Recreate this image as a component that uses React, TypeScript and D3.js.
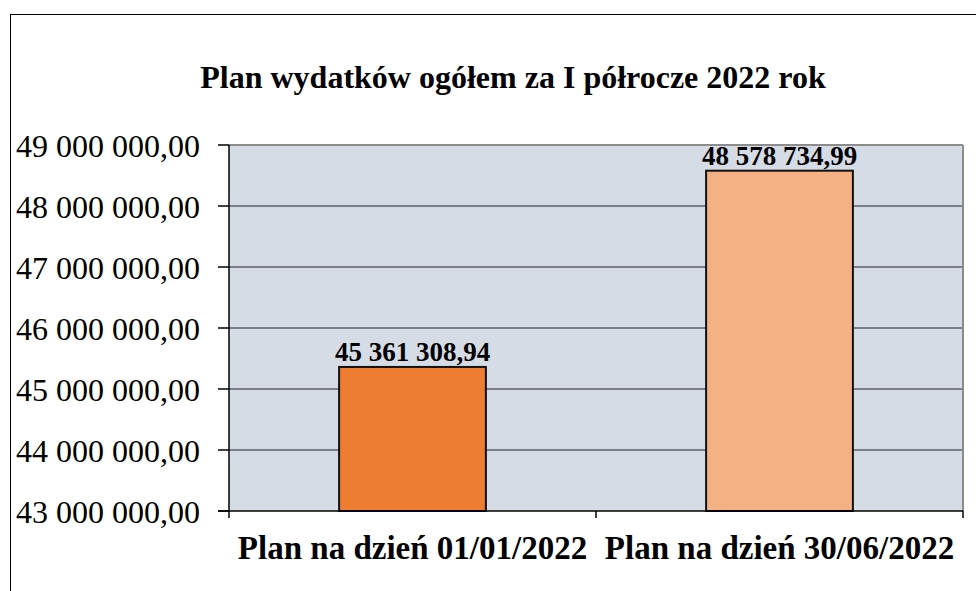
import React from "react";
import * as d3 from "d3";

const title = "Plan wydatków ogółem za I półrocze 2022 rok";
const categories = ["Plan na dzień 01/01/2022", "Plan na dzień 30/06/2022"];
const values = [45361308.94, 48578734.99];
const barColors = ["#ED7D31", "#F4B183"];
const yTicks = [43000000, 44000000, 45000000, 46000000, 47000000, 48000000, 49000000];

// 1 234 567,89 style
const fmt = (v: number) => {
  const [int, dec] = v.toFixed(2).split(".");
  return int.replace(/\B(?=(\d{3})+(?!\d))/g, " ") + "," + dec;
};

const W = 976;
const H = 591;
const plot = { left: 229, top: 145, right: 963, bottom: 511 };
const serif = "Liberation Serif, Times New Roman, DejaVu Serif, serif";

export default function App() {
  const x = d3
    .scaleBand<string>()
    .domain(categories)
    .range([plot.left, plot.right])
    .paddingInner(0.6)
    .paddingOuter(0.3);
  const y = d3.scaleLinear().domain([43000000, 49000000]).range([plot.bottom, plot.top]);
  const band = (plot.right - plot.left) / categories.length;

  return (
    <svg width={W} height={H} style={{ position: "absolute", left: 0, top: 0, background: "#fff" }}>
      <rect x={10.5} y={14.5} width={1000} height={700} fill="none" stroke="#000" strokeWidth={1} />

      <text x={513} y={88} textAnchor="middle" fontFamily={serif} fontSize={32} fontWeight="bold" fill="#000">
        {title}
      </text>

      <rect
        x={plot.left}
        y={plot.top}
        width={plot.right - plot.left}
        height={plot.bottom - plot.top}
        fill="#D6DCE5"
      />

      {yTicks.slice(1).map((t) => (
        <line key={t} x1={plot.left} x2={plot.right} y1={y(t)} y2={y(t)} stroke="#222" strokeWidth={1.2} />
      ))}

      {/* plot frame: grey top/right */}
      <line x1={plot.left} x2={plot.right} y1={plot.top} y2={plot.top} stroke="#8c8c8c" strokeWidth={2} />
      <line x1={plot.right} x2={plot.right} y1={plot.top} y2={plot.bottom} stroke="#8c8c8c" strokeWidth={2} />

      {categories.map((c, i) => (
        <g key={c}>
          <rect
            x={x(c)}
            y={y(values[i])}
            width={x.bandwidth()}
            height={plot.bottom - y(values[i])}
            fill={barColors[i]}
            stroke="#111"
            strokeWidth={2}
          />
          <text
            x={(x(c) as number) + x.bandwidth() / 2}
            y={y(values[i]) - 6}
            textAnchor="middle"
            fontFamily={serif}
            fontSize={27}
            fontWeight="bold"
            fill="#000"
          >
            {fmt(values[i])}
          </text>
          <text
            x={(x(c) as number) + x.bandwidth() / 2}
            y={559}
            textAnchor="middle"
            fontFamily={serif}
            fontSize={33}
            fontWeight="bold"
            fill="#000"
          >
            {c}
          </text>
        </g>
      ))}

      {/* y axis */}
      <line x1={plot.left} x2={plot.left} y1={plot.top} y2={plot.bottom} stroke="#000" strokeWidth={1.5} />
      {yTicks.map((t) => (
        <g key={t}>
          <line x1={plot.left - 11} x2={plot.left} y1={y(t)} y2={y(t)} stroke="#000" strokeWidth={1.5} />
          <text x={200} y={y(t) + 12} textAnchor="end" fontFamily={serif} fontSize={32} fill="#000">
            {fmt(t)}
          </text>
        </g>
      ))}

      {/* x axis */}
      <line x1={plot.left - 11} x2={plot.right} y1={plot.bottom} y2={plot.bottom} stroke="#000" strokeWidth={1.5} />
      {d3.range(categories.length + 1).map((i) => (
        <line
          key={i}
          x1={plot.left + i * band}
          x2={plot.left + i * band}
          y1={plot.bottom}
          y2={plot.bottom + 7}
          stroke="#000"
          strokeWidth={1.5}
        />
      ))}
    </svg>
  );
}
